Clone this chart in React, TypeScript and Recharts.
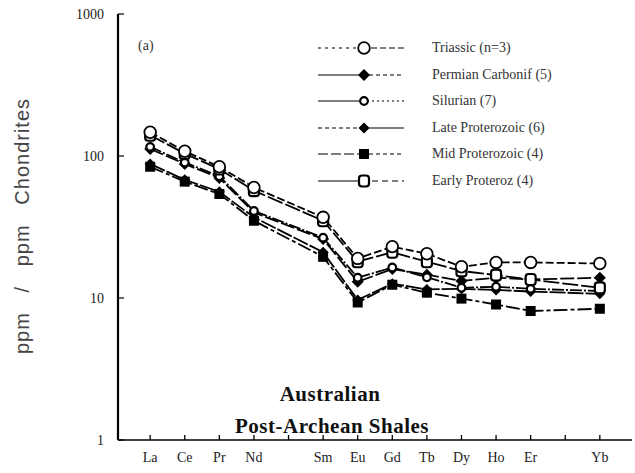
import React from 'react';
import { LineChart, Line, XAxis, YAxis, Legend } from 'recharts';

// ---- data ----
const elements = ['La', 'Ce', 'Pr', 'Nd', 'Pm', 'Sm', 'Eu', 'Gd', 'Tb', 'Dy', 'Ho', 'Er', 'Tm', 'Yb'];
const measured = ['La', 'Ce', 'Pr', 'Nd', 'Sm', 'Eu', 'Gd', 'Tb', 'Dy', 'Ho', 'Er', 'Yb'];
const triassic = [147, 108, 84, 60, 37, 19, 23, 20.5, 16.6, 17.8, 17.8, 17.5];
const permoCarb = [112, 88, 70, 40, 26, 13, 16, 14.6, 13.2, 13.9, 13.5, 13.9];
const silurian = [116, 90, 72, 41, 26.6, 13.9, 16.4, 14, 11.8, 12, 11.6, 11.2];
const lateProt = [88, 68, 56, 37, 21, 9.7, 12.6, 11.5, 11.6, 11.4, 11.1, 10.7];
const midProt = [84, 66, 54, 35, 19.5, 9.3, 12.4, 10.9, 9.9, 9.0, 8.1, 8.4];
const earlyProt = [140, 104, 81, 57, 35, 18, 21, 18, 15.5, 14.5, 13.5, 11.8];
const seriesNames = [
  'Triassic (n=3)',
  'Permian Carbonif (5)',
  'Silurian (7)',
  'Late Proterozoic (6)',
  'Mid Proterozoic (4)',
  'Early Proteroz (4)',
];
const majorTicks = [1, 10, 100, 1000];
const minorTicks = [2, 3, 4, 5, 6, 7, 8, 9, 20, 30, 40, 50, 60, 70, 80, 90, 200, 300, 400, 500, 600, 700, 800, 900];
const xTicks = elements.map((_, i) => i);

const data = measured.map((el, i) => ({
  pos: elements.indexOf(el),
  el,
  triassic: triassic[i],
  permoCarb: permoCarb[i],
  silurian: silurian[i],
  lateProt: lateProt[i],
  midProt: midProt[i],
  earlyProt: earlyProt[i],
}));

// ---- styles ----
type Kind = 'openBig' | 'diamondBig' | 'openSmall' | 'diamond' | 'square' | 'openSquare';

function Marker({ kind, cx, cy }: { kind: Kind; cx: number; cy: number }) {
  switch (kind) {
    case 'openBig':
      return <circle cx={cx} cy={cy} r={5.8} fill="#fff" stroke="#000" strokeWidth={1.8} />;
    case 'diamondBig':
      return <polygon points={`${cx},${cy - 6} ${cx + 6},${cy} ${cx},${cy + 6} ${cx - 6},${cy}`} fill="#000" />;
    case 'openSmall':
      return <circle cx={cx} cy={cy} r={3.8} fill="#fff" stroke="#000" strokeWidth={2.2} />;
    case 'diamond':
      return <polygon points={`${cx},${cy - 5.5} ${cx + 5.5},${cy} ${cx},${cy + 5.5} ${cx - 5.5},${cy}`} fill="#000" />;
    case 'square':
      return <rect x={cx - 5} y={cy - 5} width={10} height={10} fill="#000" />;
    case 'openSquare':
      return <rect x={cx - 5} y={cy - 5.5} width={10} height={11} rx={3} fill="#fff" stroke="#000" strokeWidth={2.2} />;
  }
  return null;
}

const series: { key: string; name: string; kind: Kind; dash: string; legL: string; legR: string }[] = [
  { key: 'midProt', name: seriesNames[4], kind: 'square', dash: '14 3 4 3', legL: '10 3', legR: '4 3' },
  { key: 'lateProt', name: seriesNames[3], kind: 'diamond', dash: '16 2', legL: '4 3', legR: '' },
  { key: 'permoCarb', name: seriesNames[1], kind: 'diamondBig', dash: '14 3', legL: '', legR: '4 3' },
  { key: 'silurian', name: seriesNames[2], kind: 'openSmall', dash: '12 2 2 2', legL: '', legR: '2 3' },
  { key: 'earlyProt', name: seriesNames[5], kind: 'openSquare', dash: '16 3', legL: '', legR: '6 4' },
  { key: 'triassic', name: seriesNames[0], kind: 'openBig', dash: '8 3', legL: '3 4', legR: '6 3' },
];

const legendOrder = ['triassic', 'permoCarb', 'silurian', 'lateProt', 'midProt', 'earlyProt'];

const makeDot = (kind: Kind) => (props: any) => {
  const { cx, cy, index } = props;
  if (cx == null || cy == null) return <g key={`d-${kind}-${index}`} />;
  return (
    <g key={`d-${kind}-${index}`}>
      <Marker kind={kind} cx={cx} cy={cy} />
    </g>
  );
};

const LegendContent = () => (
  <div style={{ fontFamily: '"Liberation Serif", serif', fontSize: 14, color: '#333' }}>
    {legendOrder.map((k) => {
      const s = series.find((x) => x.key === k)!;
      return (
        <div key={k} style={{ display: 'flex', alignItems: 'center', height: 26.5 }}>
          <svg width={114} height={16} style={{ display: 'block' }}>
            <line x1={0} y1={8} x2={44} y2={8} stroke="#000" strokeWidth={1.2} strokeDasharray={s.legL || undefined} />
            <line x1={44} y1={8} x2={86} y2={8} stroke="#000" strokeWidth={1.2} strokeDasharray={s.legR || undefined} />
            <Marker kind={s.kind} cx={46} cy={8} />
          </svg>
          <span style={{ whiteSpace: 'nowrap' }}>{s.name}</span>
        </div>
      );
    })}
  </div>
);

const serif = '"Liberation Serif", "Times New Roman", serif';

export default function App() {
  return (
    <div style={{ position: 'absolute', left: 0, top: 0, width: 635, height: 473, background: '#fff' }}>
      <LineChart width={635} height={473} data={data} margin={{ top: 14, right: 3, bottom: 3, left: 38 }}>
        <XAxis
          xAxisId="bottom"
          dataKey="pos"
          type="number"
          domain={[-0.93, 13.93]}
          ticks={xTicks}
          interval={0}
          tickFormatter={(v: number) => (elements[v] === 'Pm' || elements[v] === 'Tm' ? '' : elements[v])}
          tickSize={-5}
          tickMargin={17}
          height={30}
          axisLine={{ stroke: '#000', strokeWidth: 1.5 }}
          tickLine={{ stroke: '#000', strokeWidth: 1.3 }}
          tick={{ fill: '#222', fontFamily: serif, fontSize: 14 }}
          allowDataOverflow
        />
        <XAxis
          xAxisId="top"
          orientation="top"
          dataKey="pos"
          type="number"
          domain={[-0.93, 13.93]}
          ticks={xTicks}
          interval={0}
          height={0}
          tickSize={-6}
          tick={() => <g />}
          axisLine={{ stroke: '#000', strokeWidth: 1.2 }}
          tickLine={{ stroke: '#000', strokeWidth: 1.3 }}
          allowDataOverflow
        />
        <YAxis
          yAxisId="left"
          scale="log"
          domain={[1, 1000]}
          ticks={majorTicks}
          interval={0}
          width={80}
          tickSize={-6}
          tickMargin={20}
          axisLine={{ stroke: '#000', strokeWidth: 2.2 }}
          tickLine={{ stroke: '#000', strokeWidth: 1.2 }}
          tick={{ fill: '#222', fontFamily: serif, fontSize: 14 }}
          allowDataOverflow
        />
        <YAxis
          yAxisId="leftMinor"
          scale="log"
          domain={[1, 1000]}
          ticks={minorTicks}
          interval={0}
          width={0}
          tickSize={-3}
          axisLine={false}
          tick={() => <g />}
          tickLine={{ stroke: '#000', strokeWidth: 1.2 }}
          allowDataOverflow
        />
        <YAxis
          yAxisId="right"
          orientation="right"
          scale="log"
          domain={[1, 1000]}
          ticks={majorTicks}
          interval={0}
          width={0}
          tickSize={-7}
          tick={() => <g />}
          axisLine={{ stroke: '#000', strokeWidth: 1.6 }}
          tickLine={{ stroke: '#000', strokeWidth: 1.2 }}
          allowDataOverflow
        />
        <YAxis
          yAxisId="rightMinor"
          orientation="right"
          scale="log"
          domain={[1, 1000]}
          ticks={minorTicks}
          interval={0}
          width={0}
          tickSize={-3}
          tick={() => <g />}
          axisLine={false}
          tickLine={{ stroke: '#000', strokeWidth: 1.2 }}
          allowDataOverflow
        />
        {series.map((s) => (
          <Line
            key={s.key}
            xAxisId="bottom"
            yAxisId="left"
            type="linear"
            dataKey={s.key}
            name={s.name}
            stroke="#000"
            strokeWidth={1.8}
            strokeDasharray={s.dash}
            dot={makeDot(s.kind)}
            activeDot={false}
            isAnimationActive={false}
          />
        ))}
        <Legend
          layout="vertical"
          align="center"
          verticalAlign="middle"
          wrapperStyle={{ left: 318, top: 35, width: 300, height: 'auto' }}
          content={LegendContent}
        />
      </LineChart>
      <div style={{ position: 'absolute', left: 138, top: 38, fontFamily: serif, fontSize: 14, color: '#333' }}>(a)</div>
      <div
        style={{
          position: 'absolute',
          left: 22,
          top: 226,
          transform: 'translate(-50%, -50%) rotate(-90deg)',
          fontFamily: '"Liberation Sans", Arial, sans-serif',
          fontSize: 20,
          letterSpacing: 1,
          color: '#444',
          whiteSpace: 'nowrap',
        }}
      >
        ppm&nbsp;&nbsp;&nbsp;/&nbsp;&nbsp;&nbsp;ppm&nbsp;&nbsp;&nbsp;Chondrites
      </div>
      <div
        style={{
          position: 'absolute',
          left: 330,
          top: 382,
          transform: 'translateX(-50%)',
          fontFamily: serif,
          fontWeight: 'bold',
          fontSize: 21,
          letterSpacing: 0.5,
          color: '#111',
          whiteSpace: 'nowrap',
        }}
      >
        Australian
      </div>
      <div
        style={{
          position: 'absolute',
          left: 332,
          top: 414,
          transform: 'translateX(-50%)',
          fontFamily: serif,
          fontWeight: 'bold',
          fontSize: 21,
          letterSpacing: 0.5,
          color: '#111',
          whiteSpace: 'nowrap',
        }}
      >
        Post-Archean Shales
      </div>
    </div>
  );
}
